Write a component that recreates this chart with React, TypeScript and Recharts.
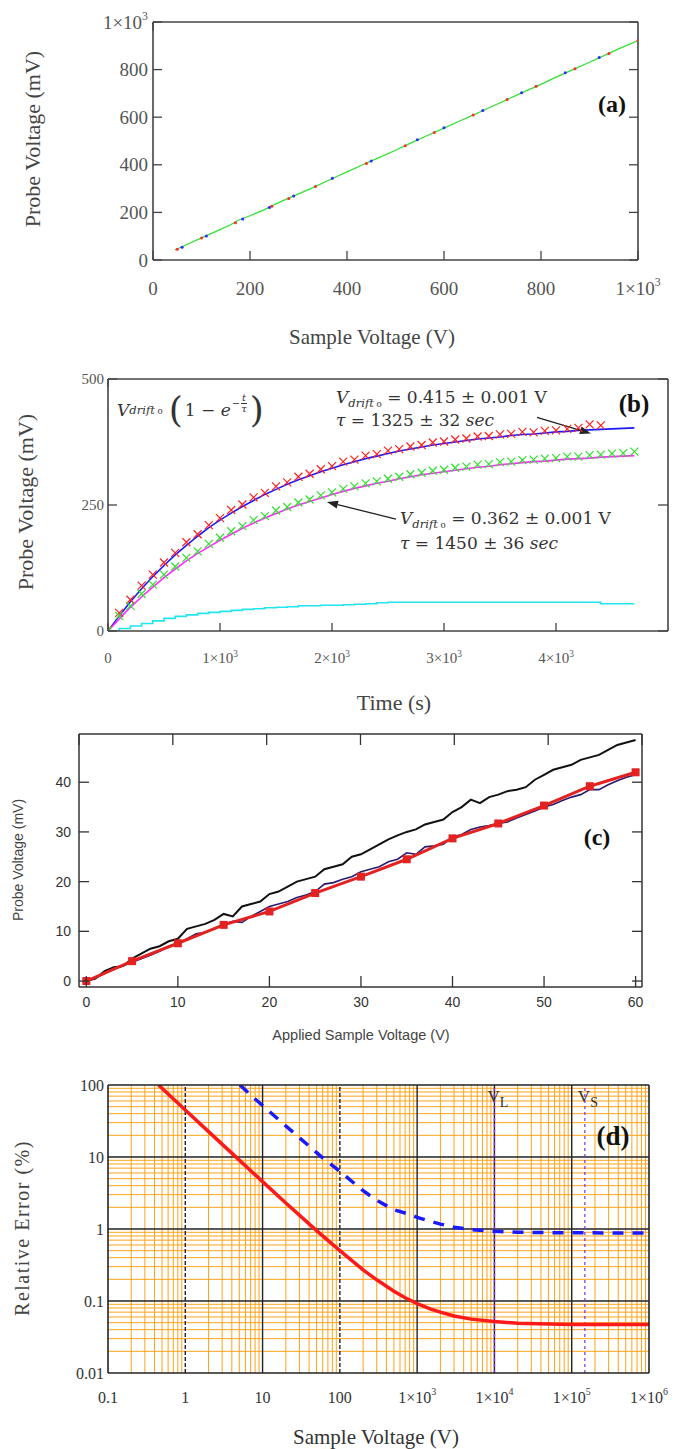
import React from 'react';
import { LineChart, ComposedChart, Line, XAxis, YAxis, ReferenceLine } from 'recharts';

const SERIF = '"Liberation Serif", "Times New Roman", serif';
const SANS = '"Liberation Sans", Arial, sans-serif';
const MATH = '"DejaVu Serif", serif';

// ---------- (a) probe voltage vs sample voltage ----------
const sampleVoltageA = [45, 70, 100, 130, 160, 175, 200, 230, 250, 275, 300, 330, 360, 380, 400, 430, 460, 500, 530, 560, 600, 630, 660, 700, 730, 760, 800, 830, 860, 900, 930, 960, 1000];
const probeVoltageA = [42, 65, 93, 120, 148, 166, 186, 212, 233, 256, 278, 304, 333, 352, 370, 398, 425, 461, 490, 518, 554, 582, 609, 646, 674, 702, 738, 767, 795, 831, 859, 887, 922];
const redDotsV = [50, 100, 170, 245, 280, 335, 440, 520, 580, 660, 730, 790, 870, 940, 1000];
const redDotsP = [45, 92, 157, 226, 258, 309, 405, 480, 536, 609, 674, 730, 804, 868, 922];
const blueDotsV = [60, 110, 185, 240, 290, 370, 450, 545, 600, 680, 760, 850, 920];
const blueDotsP = [54, 101, 172, 221, 269, 343, 416, 505, 556, 628, 703, 787, 851];
const ticksA = [0, 200, 400, 600, 800, 1000];

// ---------- (b) drift vs time ----------
const timeB = [0, 100, 200, 300, 400, 500, 600, 700, 800, 900, 1000, 1100, 1200, 1300, 1400, 1500, 1600, 1700, 1800, 1900, 2000, 2100, 2200, 2300, 2400, 2500, 2600, 2700, 2800, 2900, 3000, 3100, 3200, 3300, 3400, 3500, 3600, 3700, 3800, 3900, 4000, 4100, 4200, 4300, 4400, 4500, 4600, 4700];
const blueFitB = [0, 30, 58, 84, 108, 130, 151, 170, 188, 205, 220, 234, 247, 259, 271, 281, 291, 300, 308, 316, 323, 330, 336, 342, 347, 352, 357, 361, 365, 369, 372, 375, 378, 381, 383, 385, 388, 390, 391, 393, 395, 396, 398, 399, 400, 401, 402, 403];
const redDataB = [2, 36, 62, 90, 112, 136, 155, 176, 192, 210, 224, 240, 251, 265, 274, 287, 295, 306, 312, 321, 327, 336, 340, 348, 351, 358, 361, 366, 369, 374, 376, 380, 382, 386, 387, 390, 391, 395, 394, 397, 398, 401, 403, 410, 408];
const magentaFitB = [0, 24, 47, 68, 87, 106, 123, 139, 154, 167, 180, 192, 204, 214, 224, 233, 242, 250, 257, 264, 271, 277, 283, 288, 293, 297, 302, 306, 310, 313, 316, 319, 322, 325, 327, 330, 332, 334, 336, 337, 339, 341, 342, 343, 345, 346, 347, 348];
const greenDataB = [1, 30, 50, 74, 92, 112, 128, 145, 158, 173, 185, 198, 208, 220, 228, 239, 246, 255, 261, 269, 275, 282, 287, 293, 297, 302, 306, 311, 314, 318, 320, 324, 326, 330, 331, 335, 336, 339, 340, 342, 343, 346, 346, 349, 350, 352, 353, 356];
const cyanB = [0, 5, 10, 15, 20, 25, 29, 32, 35, 37, 39, 41, 43, 44, 46, 47, 48, 50, 50, 51, 51, 52, 53, 54, 56, 57, 57, 57, 57, 57, 57, 57, 57, 57, 57, 57, 57, 57, 57, 57, 57, 57, 57, 57, 54, 54, 54, 54];
const timeTicksB = [0, 1000, 2000, 3000, 4000];
const probeTicksB = [0, 250, 500];

// ---------- (c) probe voltage vs applied voltage ----------
const appliedV = [0, 1, 2, 3, 4, 5, 6, 7, 8, 9, 10, 11, 12, 13, 14, 15, 16, 17, 18, 19, 20, 21, 22, 23, 24, 25, 26, 27, 28, 29, 30, 31, 32, 33, 34, 35, 36, 37, 38, 39, 40, 41, 42, 43, 44, 45, 46, 47, 48, 49, 50, 51, 52, 53, 54, 55, 56, 57, 58, 59, 60];
const blackC = [0, 0.5, 2, 2.8, 3, 4.5, 5.5, 6.5, 7, 8, 8.5, 10.5, 11, 11.5, 12.3, 13.5, 13, 15, 15.5, 16, 17.5, 18, 19, 20, 20.5, 21, 22.5, 23, 23.5, 25, 25.5, 26.5, 27.5, 28.5, 29.3, 30, 30.5, 31.5, 32, 32.5, 34, 35, 36.5, 35.8, 37, 37.5, 38.2, 38.5, 39, 40.5, 41.5, 42.5, 43, 43.5, 44.5, 45, 45.5, 46.5, 47.5, 48, 48.5];
const navyC = [0, 0.6, 1.5, 2.4, 3, 3.8, 4.5, 5.2, 6, 7, 7.6, 8.5, 9.5, 9.8, 10.5, 11.5, 12, 11.8, 13, 14, 15, 15.5, 16, 16.8, 17.3, 18, 19.5, 19.8, 20.5, 21, 22, 22.5, 23, 24, 24.5, 25.8, 25.5, 27, 27.2, 27.5, 29, 29.5, 30.5, 31, 31.3, 31.7, 32, 32.8, 33.5, 34.2, 35, 35.5, 36.3, 37, 37.5, 38.5, 38.5, 39.5, 40.3, 41, 41.5];
const squareV = [0, 5, 10, 15, 20, 25, 30, 35, 40, 45, 50, 55, 60];
const squareP = [0, 4, 7.6, 11.3, 14, 17.7, 21, 24.5, 28.7, 31.7, 35.3, 39.2, 42];
const ticksCX = [0, 10, 20, 30, 40, 50, 60];
const ticksCY = [0, 10, 20, 30, 40];

// ---------- (d) relative error, log-log ----------
const redV = [0.45, 1, 2, 5, 10, 20, 50, 100, 200, 300, 500, 700, 1000, 1500, 2000, 3000, 5000, 10000, 20000, 50000, 100000, 1000000];
const redErr = [100, 45, 22.5, 9.05, 4.55, 2.3, 0.95, 0.5, 0.27, 0.197, 0.137, 0.111, 0.092, 0.077, 0.07, 0.062, 0.056, 0.052, 0.049, 0.048, 0.047, 0.047];
const blueV = [5.1, 8, 10, 20, 30, 50, 63, 100, 200, 300, 500, 800, 1000, 2000, 3000, 5000, 10000, 20000, 50000, 100000, 1000000];
const blueErr = [100, 64, 52, 27, 18.5, 11.5, 9.3, 6.3, 3.4, 2.5, 1.85, 1.6, 1.45, 1.17, 1.06, 0.98, 0.93, 0.9, 0.89, 0.885, 0.88];
const decadesX = [0.1, 1, 10, 100, 1000, 10000, 100000, 1000000];
const decadesY = [0.01, 0.1, 1, 10, 100];
const minorSteps = [2, 3, 4, 5, 6, 7, 8, 9];
const dottedMajorX = [1, 100];
const vL = 10000;
const vS = 148000;

const dataA = sampleVoltageA.map((v, i) => ({ v, p: probeVoltageA[i] }));
const redA = redDotsV.map((v, i) => ({ v, p: redDotsP[i] }));
const blueA = blueDotsV.map((v, i) => ({ v, p: blueDotsP[i] }));
const dataB = timeB.map((t, i) => ({ t, blue: blueFitB[i], red: redDataB[i], magenta: magentaFitB[i], green: greenDataB[i], cyan: cyanB[i] }));
const dataC = appliedV.map((v, i) => ({ v, black: blackC[i], navy: navyC[i] }));
const squaresC = squareV.map((v, i) => ({ v, p: squareP[i] }));
const redD = redV.map((v, i) => ({ v, e: redErr[i] }));
const blueD = blueV.map((v, i) => ({ v, e: blueErr[i] }));
const minorX = decadesX.slice(0, -1).flatMap((d) => minorSteps.map((m) => d * m));
const minorY = decadesY.slice(0, -1).flatMap((d) => minorSteps.map((m) => d * m));
const majorX = decadesX.slice(1, -1);
const majorY = decadesY.slice(1, -1);

function sciParts(v: number): [string, string] {
  if (v >= 1000) {
    const e = Math.floor(Math.log10(v) + 1e-9);
    const m = Math.round(v / Math.pow(10, e));
    return [`${m}×10`, String(e)];
  }
  return [String(v), ''];
}

type TickOpts = { side: 'bottom' | 'left' | 'top' | 'right'; margin?: number; len?: number; stroke?: string; size?: number; family?: string; fill?: string; label?: boolean };

// draws an inward tick mark at the frame, plus the label outside it
const makeTick = (o: TickOpts) => (props: any) => {
  const { x, y, payload, textAnchor } = props;
  const m = o.margin ?? 0, len = o.len ?? 0, st = o.stroke ?? '#444';
  let l = { x1: x, y1: y, x2: x, y2: y };
  if (o.side === 'bottom') l = { x1: x, y1: y - m, x2: x, y2: y - m - len };
  if (o.side === 'left') l = { x1: x + m, y1: y, x2: x + m + len, y2: y };
  if (o.side === 'top') l = { x1: x, y1: y, x2: x, y2: y + len };
  if (o.side === 'right') l = { x1: x, y1: y, x2: x - len, y2: y };
  const [main, sup] = sciParts(payload.value);
  const size = o.size ?? 15;
  return (
    <g>
      {len > 0 && <line {...l} stroke={st} strokeWidth={1.3} />}
      {o.label !== false && (
        <text x={x} y={y} textAnchor={textAnchor} fontSize={size} fontFamily={o.family} fill={o.fill}>
          <tspan dy="0.35em">{main}</tspan>
          {sup && <tspan dy={-size * 0.45} fontSize={size * 0.62}>{sup}</tspan>}
        </text>
      )}
    </g>
  );
};

const crossDot = (color: string) => (props: any) => {
  const { cx, cy, index } = props;
  if (cx == null || cy == null || Number.isNaN(cy)) return <g key={index} />;
  const s = 4;
  return (
    <path key={index} d={`M${cx - s},${cy - s}L${cx + s},${cy + s}M${cx - s},${cy + s}L${cx + s},${cy - s}`}
      stroke={color} strokeWidth={1.2} fill="none" />
  );
};

const smallDot = (color: string) => (props: any) => {
  const { cx, cy, index } = props;
  if (cx == null || cy == null) return <g key={index} />;
  return <circle key={index} cx={cx} cy={cy} r={1.5} fill={color} />;
};

const squareDot = (props: any) => {
  const { cx, cy, index } = props;
  if (cx == null || cy == null) return <g key={index} />;
  return <rect key={index} x={cx - 4} y={cy - 4} width={8} height={8} fill="#e32222" />;
};

const arrowShape = (props: any) => {
  const { x1, y1, x2, y2 } = props;
  const a = Math.atan2(y2 - y1, x2 - x1);
  const L = 11, Wd = 4;
  const bx = x2 - L * Math.cos(a), by = y2 - L * Math.sin(a);
  const px = -Math.sin(a) * Wd, py = Math.cos(a) * Wd;
  return (
    <g>
      <line x1={x1} y1={y1} x2={bx} y2={by} stroke="#222" strokeWidth={1.3} />
      <polygon points={`${x2},${y2} ${bx + px},${by + py} ${bx - px},${by - py}`} fill="#222" />
    </g>
  );
};

const vLabel = (sub: string) => (props: any) => {
  const vb = props.viewBox || {};
  return (
    <text x={vb.x - 7} y={vb.y + 17} fontSize={17} fontFamily={SERIF} fill="#333">
      V<tspan dy={5} fontSize={14}>{sub}</tspan>
    </text>
  );
};

const Txt = ({ x, y, rot, style, children }: any) => (
  <div style={{
    position: 'absolute', left: x, top: y, whiteSpace: 'nowrap', lineHeight: 1,
    transform: `translate(-50%, -50%)${rot ? ' rotate(-90deg)' : ''}`, ...style,
  }}>{children}</div>
);

const subStyle: React.CSSProperties = { fontSize: '68%', verticalAlign: '-0.35em', lineHeight: 0 };
const frame = (color: string, w: number) => ({ stroke: color, strokeWidth: w });

const Vdrift = () => (
  <>
    <i>V</i><span style={subStyle}><i>drift</i><span style={{ fontSize: '75%' }}> o</span></span>
  </>
);

const PanelA = () => (
  <div style={{ position: 'absolute', left: 0, top: 0 }}>
    <LineChart width={683} height={350} data={dataA} margin={{ top: 12, right: 35, bottom: 30, left: 93 }}>
      <XAxis dataKey="v" type="number" domain={[0, 1000]} ticks={ticksA} interval={0} allowDataOverflow height={60}
        tickSize={0} tickMargin={28} tickLine={false} axisLine={frame('#444', 1.6)}
        tick={makeTick({ side: 'bottom', margin: 28, len: 9, size: 19, family: SERIF, fill: '#555' })} />
      <XAxis xAxisId="top" orientation="top" type="number" domain={[0, 1000]} ticks={ticksA} interval={0} allowDataOverflow
        height={10} tickSize={0} tickMargin={0} tickLine={false} axisLine={frame('#444', 1.6)}
        tick={makeTick({ side: 'top', len: 9, label: false })} />
      <YAxis type="number" domain={[0, 1000]} ticks={ticksA} interval={0} allowDataOverflow width={60}
        tickSize={0} tickMargin={5} tickLine={false} axisLine={frame('#444', 1.6)}
        tick={makeTick({ side: 'left', margin: 5, len: 9, size: 19, family: SERIF, fill: '#555' })} />
      <YAxis yAxisId="right" orientation="right" type="number" domain={[0, 1000]} ticks={ticksA} interval={0} allowDataOverflow
        width={10} tickSize={0} tickMargin={0} tickLine={false} axisLine={frame('#444', 1.6)}
        tick={makeTick({ side: 'right', len: 9, label: false })} />
      <Line data={redA} dataKey="p" stroke="none" dot={smallDot('#ff2a2a')} isAnimationActive={false} />
      <Line data={blueA} dataKey="p" stroke="none" dot={smallDot('#2a2aff')} isAnimationActive={false} />
      <Line dataKey="p" stroke="#33e033" strokeWidth={1.3} dot={false} isAnimationActive={false} />
    </LineChart>
    <Txt x={372} y={337} style={{ fontFamily: SERIF, fontSize: 21, color: '#444' }}>Sample Voltage (V)</Txt>
    <Txt x={33} y={139} rot style={{ fontFamily: SERIF, fontSize: 22, color: '#444' }}>Probe Voltage (mV)</Txt>
    <Txt x={612} y={104} style={{ fontFamily: SERIF, fontSize: 24, fontWeight: 'bold', color: '#111' }}>(a)</Txt>
  </div>
);

const PanelB = () => (
  <div style={{ position: 'absolute', left: 0, top: 350 }}>
    <LineChart width={683} height={370} data={dataB} margin={{ top: 19, right: 5, bottom: 39, left: 58 }}>
      <XAxis dataKey="t" type="number" domain={[0, 5000]} ticks={timeTicksB} interval={0} allowDataOverflow height={50}
        tickSize={0} tickMargin={27} tickLine={false} axisLine={frame('#444', 1.6)}
        tick={makeTick({ side: 'bottom', margin: 27, len: 8, size: 15, family: SERIF, fill: '#555' })} />
      <XAxis xAxisId="top" orientation="top" type="number" domain={[0, 5000]} ticks={timeTicksB} interval={0} allowDataOverflow
        height={10} tickSize={0} tickMargin={0} tickLine={false} axisLine={frame('#444', 1.6)}
        tick={makeTick({ side: 'top', len: 8, label: false })} />
      <YAxis type="number" domain={[0, 500]} ticks={probeTicksB} interval={0} allowDataOverflow width={50}
        tickSize={0} tickMargin={4} tickLine={false} axisLine={frame('#444', 1.6)}
        tick={makeTick({ side: 'left', margin: 4, len: 9, size: 15, family: SERIF, fill: '#555' })} />
      <YAxis yAxisId="right" orientation="right" type="number" domain={[0, 500]} ticks={probeTicksB} interval={0} allowDataOverflow
        width={10} tickSize={0} tickMargin={0} tickLine={false} axisLine={frame('#444', 1.6)}
        tick={makeTick({ side: 'right', len: 10, label: false })} />
      <Line dataKey="red" stroke="none" dot={crossDot('#ff2020')} isAnimationActive={false} />
      <Line dataKey="green" stroke="none" dot={crossDot('#2ee02e')} isAnimationActive={false} />
      <Line dataKey="blue" stroke="#1a1aff" strokeWidth={1.6} dot={false} isAnimationActive={false} />
      <Line dataKey="magenta" stroke="#ff2aff" strokeWidth={1.6} dot={false} isAnimationActive={false} />
      <Line dataKey="cyan" type="stepAfter" stroke="#22e5f0" strokeWidth={1.6} dot={false} isAnimationActive={false} />
      <ReferenceLine segment={[{ x: 3830, y: 424 }, { x: 4312, y: 392 }]} shape={arrowShape} />
      <ReferenceLine segment={[{ x: 2571, y: 222 }, { x: 1955, y: 256 }]} shape={arrowShape} />
    </LineChart>
    <Txt x={394} y={353} style={{ fontFamily: SERIF, fontSize: 22, color: '#444' }}>Time (s)</Txt>
    <Txt x={26} y={152} rot style={{ fontFamily: SERIF, fontSize: 22, color: '#444' }}>Probe Voltage (mV)</Txt>
    <Txt x={634} y={53} style={{ fontFamily: SERIF, fontSize: 25, fontWeight: 'bold', color: '#111' }}>(b)</Txt>
    <div style={{ position: 'absolute', left: 117, top: 40, height: 40, display: 'flex', alignItems: 'center', fontFamily: MATH, fontSize: 17, color: '#333', whiteSpace: 'nowrap' }}>
      <Vdrift />
      <span style={{ fontSize: 36, fontWeight: 200, margin: '0 2px 0 6px', lineHeight: 1 }}>(</span>
      <span>1 − <i>e</i></span>
      <span style={{ display: 'inline-flex', alignItems: 'center', fontSize: 10, marginTop: -14, marginLeft: 1 }}>
        −<span style={{ display: 'inline-flex', flexDirection: 'column', alignItems: 'center', lineHeight: 1, marginLeft: 1 }}>
          <i>t</i><span style={{ borderTop: '1px solid #333' }}><i>τ</i></span>
        </span>
      </span>
      <span style={{ fontSize: 36, fontWeight: 200, marginLeft: 3, lineHeight: 1 }}>)</span>
    </div>
    <div style={{ position: 'absolute', left: 336, top: 36, fontFamily: MATH, fontSize: 17, color: '#333', whiteSpace: 'nowrap', lineHeight: '23px' }}>
      <div><Vdrift /> = 0.415 ± 0.001 V</div>
      <div><i>τ</i> = 1325 ± 32 <i>sec</i></div>
    </div>
    <div style={{ position: 'absolute', left: 400, top: 156, fontFamily: MATH, fontSize: 17, color: '#333', whiteSpace: 'nowrap', lineHeight: '25px' }}>
      <div><Vdrift /> = 0.362 ± 0.001 V</div>
      <div><i>τ</i> = 1450 ± 36 <i>sec</i></div>
    </div>
  </div>
);

const PanelC = () => (
  <div style={{ position: 'absolute', left: 0, top: 720 }}>
    <LineChart width={683} height={340} data={dataC} margin={{ top: 4, right: 31, bottom: 33, left: 29 }}>
      <XAxis dataKey="v" type="number" domain={[-0.8, 60.7]} ticks={ticksCX} interval={0} allowDataOverflow height={40}
        tickSize={0} tickMargin={15} tickLine={false} axisLine={frame('#333', 1.5)}
        tick={makeTick({ side: 'bottom', margin: 15, len: 11, stroke: '#333', size: 14, family: SANS, fill: '#333' })} />
      <XAxis xAxisId="top" orientation="top" type="number" domain={[-0.8, 60.7]} ticks={ticksCX} interval={0} allowDataOverflow
        height={10} tickSize={0} tickMargin={0} tickLine={false} axisLine={frame('#333', 1.5)}
        tick={makeTick({ side: 'top', len: 11, stroke: '#333', label: false })} />
      <YAxis type="number" domain={[-1.2, 49.7]} ticks={ticksCY} interval={0} allowDataOverflow width={50}
        tickSize={0} tickMargin={8} tickLine={false} axisLine={frame('#333', 1.5)}
        tick={makeTick({ side: 'left', margin: 8, len: 10, stroke: '#333', size: 14, family: SANS, fill: '#333' })} />
      <YAxis yAxisId="right" orientation="right" type="number" domain={[-1.2, 49.7]} ticks={ticksCY} interval={0} allowDataOverflow
        width={10} tickSize={0} tickMargin={0} tickLine={false} axisLine={frame('#333', 1.5)}
        tick={makeTick({ side: 'right', len: 10, stroke: '#333', label: false })} />
      <Line dataKey="black" stroke="#111" strokeWidth={2} dot={false} isAnimationActive={false} />
      <Line dataKey="navy" stroke="#2b1a6e" strokeWidth={1.6} dot={false} isAnimationActive={false} />
      <Line data={squaresC} dataKey="p" stroke="#e32222" strokeWidth={3} dot={squareDot} isAnimationActive={false} />
    </LineChart>
    <Txt x={361} y={315} style={{ fontFamily: SANS, fontSize: 14.5, color: '#444' }}>Applied Sample Voltage (V)</Txt>
    <Txt x={18} y={140} rot style={{ fontFamily: SANS, fontSize: 14, color: '#444' }}>Probe Voltage (mV)</Txt>
    <Txt x={597} y={117} style={{ fontFamily: SERIF, fontSize: 24, fontWeight: 'bold', color: '#111' }}>(c)</Txt>
  </div>
);

const tickD = makeTick({ side: 'bottom', size: 16, family: SERIF, fill: '#333' });

const PanelD = () => (
  <div style={{ position: 'absolute', left: 0, top: 1060 }}>
    <ComposedChart width={683} height={389} margin={{ top: 15, right: 24, bottom: 36, left: 58 }}>
      <XAxis dataKey="v" type="number" scale="log" domain={[0.1, 1000000]} ticks={decadesX} interval={0} allowDataOverflow height={40}
        tickSize={0} tickMargin={24} tickLine={false} axisLine={frame('#222', 1.6)} tick={tickD} />
      <XAxis xAxisId="top" orientation="top" type="number" scale="log" domain={[0.1, 1000000]} allowDataOverflow
        height={10} tick={false} tickLine={false} axisLine={frame('#222', 1.6)} />
      <YAxis type="number" scale="log" domain={[0.01, 100]} ticks={decadesY} interval={0} allowDataOverflow width={50}
        tickSize={0} tickMargin={4} tickLine={false} axisLine={frame('#222', 1.6)} tick={tickD} />
      <YAxis yAxisId="right" orientation="right" type="number" scale="log" domain={[0.01, 100]} allowDataOverflow
        width={10} tick={false} tickLine={false} axisLine={frame('#222', 1.6)} />
      {minorX.map((v) => <ReferenceLine key={`mx${v}`} x={v} stroke="#ffa31a" strokeWidth={1} zIndex={-10} />)}
      {minorY.map((v) => <ReferenceLine key={`my${v}`} y={v} stroke="#ffa31a" strokeWidth={1} zIndex={-10} />)}
      {majorX.map((v) => (
        <ReferenceLine key={`Mx${v}`} x={v} stroke="#222" strokeWidth={1.4} zIndex={-5}
          strokeDasharray={dottedMajorX.includes(v) ? '4 2' : undefined} />
      ))}
      {majorY.map((v) => <ReferenceLine key={`My${v}`} y={v} stroke="#222" strokeWidth={1.4} zIndex={-5} />)}
      <ReferenceLine x={vL} stroke="#8a2be2" strokeWidth={1.4} strokeDasharray="3 3" label={vLabel('L')} zIndex={-1} />
      <ReferenceLine x={vS} stroke="#8a2be2" strokeWidth={1.2} strokeDasharray="3 3" label={vLabel('S')} zIndex={-1} />
      <Line data={redD} dataKey="e" stroke="#ff1a1a" strokeWidth={3.5} dot={false} isAnimationActive={false} />
      <Line data={blueD} dataKey="e" stroke="#1a1aff" strokeWidth={3.5} strokeDasharray="11 9" dot={false} isAnimationActive={false} />
    </ComposedChart>
    <Txt x={376} y={377} style={{ fontFamily: SERIF, fontSize: 21, color: '#333' }}>Sample Voltage (V)</Txt>
    <Txt x={22} y={168} rot style={{ fontFamily: SERIF, fontSize: 20, color: '#444', letterSpacing: 1.5 }}>Relative Error (%)</Txt>
    <Txt x={613} y={76} style={{ fontFamily: SERIF, fontSize: 27, fontWeight: 'bold', color: '#111' }}>(d)</Txt>
  </div>
);

export default function App() {
  return (
    <div style={{ position: 'absolute', left: 0, top: 0, width: 683, height: 1449, background: '#fff' }}>
      <PanelA />
      <PanelB />
      <PanelC />
      <PanelD />
    </div>
  );
}
